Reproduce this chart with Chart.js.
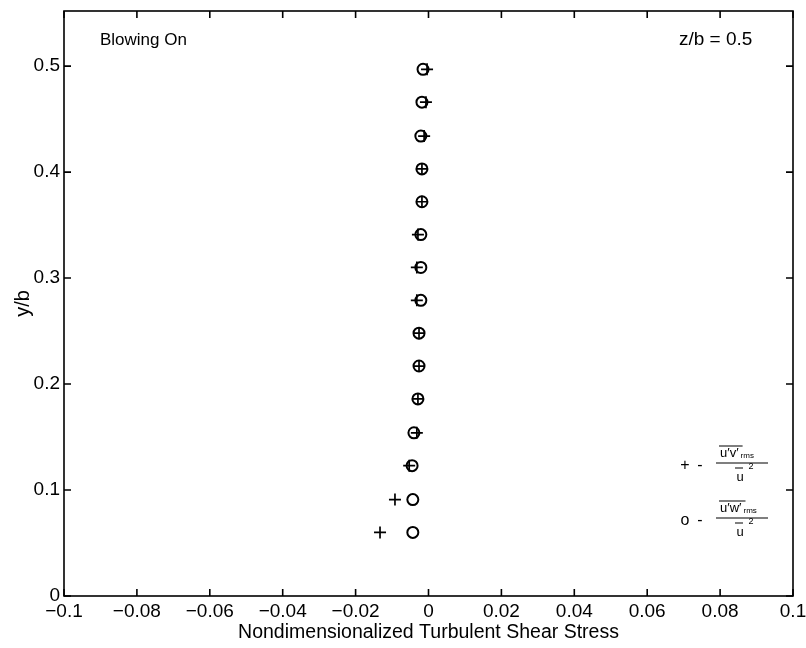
<!DOCTYPE html>
<html lang="en">
<head>
  <meta charset="UTF-8" />
  <title>Turbulent Shear Stress</title>
  <script src="https://cdn.jsdelivr.net/npm/chart.js"></script>
  <style>
    html, body { margin: 0; padding: 0; background: #fff; }
    canvas { display: block; }
  </style>
</head>
<body>
  <canvas id="shearChart" width="806" height="648"></canvas>

  <script>
    // y/b positions of the measurement stations
    const yStations = [0.060, 0.091, 0.123, 0.154, 0.186, 0.217, 0.248, 0.279,
                       0.310, 0.341, 0.372, 0.403, 0.434, 0.466, 0.497];
    // u'v' (plus markers)
    const uvStress = [-0.0133, -0.0092, -0.0053, -0.0032, -0.0029, -0.0026, -0.0026, -0.0032,
                      -0.0032, -0.0029, -0.0018, -0.0018, -0.0012, -0.0007, -0.0004];
    // u'w' (circle markers)
    const uwStress = [-0.0043, -0.0043, -0.0045, -0.0040, -0.0029, -0.0026, -0.0026, -0.0021,
                      -0.0021, -0.0021, -0.0018, -0.0018, -0.0021, -0.0018, -0.0015];

    const xTicks = [-0.1, -0.08, -0.06, -0.04, -0.02, 0, 0.02, 0.04, 0.06, 0.08, 0.1];
    const yTicks = [0, 0.1, 0.2, 0.3, 0.4, 0.5];

    const FONT = '"Liberation Sans", Arial, Helvetica, sans-serif';

    function fmt(v) {
      const n = parseFloat(v.toFixed(3));
      if (n === 0) return '0';
      return n < 0 ? '\u2212' + String(-n) : String(n);
    }

    // box with inward ticks on all four sides
    const boxPlugin = {
      id: 'boxTicks',
      afterDraw(chart) {
        const { ctx, chartArea: a, scales } = chart;
        const len = 7;
        ctx.save();
        ctx.strokeStyle = '#000';
        ctx.lineWidth = 1.6;
        ctx.strokeRect(a.left, a.top, a.right - a.left, a.bottom - a.top);
        ctx.beginPath();
        xTicks.forEach(v => {
          const x = scales.x.getPixelForValue(v);
          ctx.moveTo(x, a.bottom); ctx.lineTo(x, a.bottom - len);
          ctx.moveTo(x, a.top); ctx.lineTo(x, a.top + len);
        });
        yTicks.forEach(v => {
          const y = scales.y.getPixelForValue(v);
          ctx.moveTo(a.left, y); ctx.lineTo(a.left + len, y);
          ctx.moveTo(a.right, y); ctx.lineTo(a.right - len, y);
        });
        ctx.stroke();

        // annotations
        ctx.fillStyle = '#000';
        ctx.textBaseline = 'middle';
        ctx.textAlign = 'left';
        ctx.font = '17px ' + FONT;
        ctx.fillText('Blowing On', 100, 40);
        ctx.font = '19px ' + FONT;
        ctx.fillText('z/b = 0.5', 679, 40);

        // legend
        drawLegendItem(ctx, 466, '+', 'u\u2032v\u2032');
        drawLegendItem(ctx, 521, 'o', 'u\u2032w\u2032');
        ctx.restore();
      }
    };

    function drawLegendItem(ctx, y, sym, num) {
      ctx.textBaseline = 'middle';
      ctx.textAlign = 'center';
      ctx.font = '16px ' + FONT;
      ctx.fillText(sym, 685, y);
      ctx.fillText('-', 700, y);
      ctx.lineWidth = 1.2;
      // numerator
      ctx.font = '13px ' + FONT;
      ctx.textAlign = 'left';
      ctx.fillText(num, 720, y - 13);
      const w = ctx.measureText(num).width;
      ctx.font = '8px ' + FONT;
      ctx.fillText('rms', 722 + w, y - 10);
      ctx.beginPath();
      ctx.moveTo(719, y - 20); ctx.lineTo(722 + w + 2, y - 20);
      // fraction bar
      ctx.moveTo(716, y - 3); ctx.lineTo(768, y - 3);
      // denominator overline
      ctx.moveTo(735, y + 2); ctx.lineTo(743, y + 2);
      ctx.stroke();
      ctx.font = '13px ' + FONT;
      ctx.textAlign = 'center';
      ctx.fillText('u', 740, y + 11);
      ctx.font = '9px ' + FONT;
      ctx.fillText('2', 751, y + 1);
    }

    new Chart(document.getElementById('shearChart'), {
      type: 'scatter',
      data: {
        datasets: [
          {
            label: "u'v'",
            data: yStations.map((y, i) => ({ x: uvStress[i], y: y })),
            pointStyle: 'cross',
            pointRadius: 6,
            pointBorderWidth: 1.7,
            borderColor: '#000',
            backgroundColor: '#000'
          },
          {
            label: "u'w'",
            data: yStations.map((y, i) => ({ x: uwStress[i], y: y })),
            pointStyle: 'circle',
            pointRadius: 5.5,
            pointBorderWidth: 2,
            borderColor: '#000',
            backgroundColor: 'rgba(0,0,0,0)'
          }
        ]
      },
      options: {
        responsive: false,
        animation: false,
        layout: { padding: { left: 0, top: 11, right: 13, bottom: 0 } },
        plugins: {
          legend: { display: false },
          tooltip: { enabled: false }
        },
        scales: {
          x: {
            type: 'linear',
            min: -0.1,
            max: 0.1,
            afterFit: s => { s.height = 52; s.paddingLeft = 0; s.paddingRight = 0; },
            afterBuildTicks: s => { s.ticks = xTicks.map(v => ({ value: v })); },
            grid: { display: false, drawTicks: false },
            border: { display: false },
            ticks: {
              color: '#000',
              padding: 4,
              maxRotation: 0,
              autoSkip: false,
              font: { family: FONT, size: 19 },
              callback: v => fmt(v)
            },
            title: {
              display: true,
              text: 'Nondimensionalized Turbulent Shear Stress',
              color: '#000',
              padding: { top: 0, bottom: 4 },
              font: { family: FONT, size: 19.5 }
            }
          },
          y: {
            type: 'linear',
            min: 0,
            max: 0.552,
            afterFit: s => { s.width = 64; s.paddingTop = 0; s.paddingBottom = 0; },
            afterBuildTicks: s => { s.ticks = yTicks.map(v => ({ value: v })); },
            grid: { display: false, drawTicks: false },
            border: { display: false },
            ticks: {
              color: '#000',
              padding: 4,
              autoSkip: false,
              font: { family: FONT, size: 19 },
              callback: v => fmt(v)
            },
            title: {
              display: true,
              text: 'y/b',
              color: '#000',
              padding: { top: 11, bottom: 0 },
              font: { family: FONT, size: 20 }
            }
          }
        }
      },
      plugins: [boxPlugin]
    });
  </script>
</body>
</html>
